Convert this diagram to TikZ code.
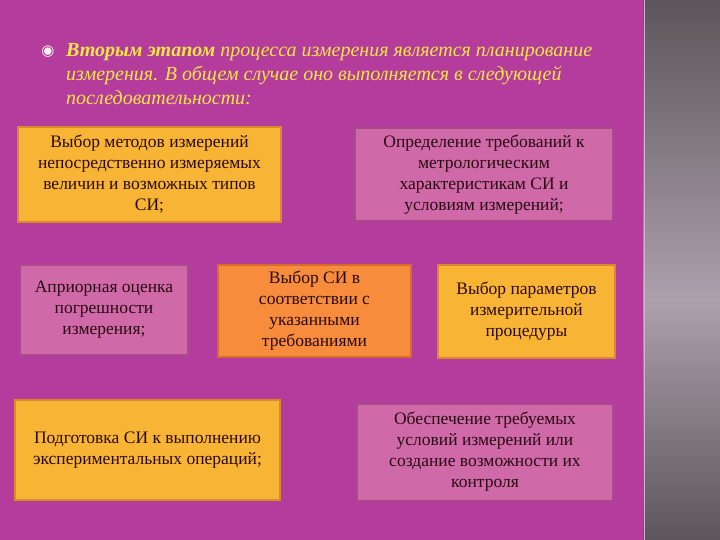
\documentclass[tikz,border=0pt]{standalone}
\usepackage{fontspec}
\setmainfont{Liberation Serif}
\newfontfamily\symfont{DejaVu Sans}
\usetikzlibrary{positioning}

\definecolor{slidebg}{HTML}{B33C9C}
\definecolor{panelmid}{HTML}{ADA0AC}
\definecolor{paneldark}{HTML}{5C565A}
\definecolor{headyellow}{HTML}{F8E646}
\definecolor{boxyellow}{HTML}{F8B434}
\definecolor{edgeyellow}{HTML}{D88A2C}
\definecolor{boxpink}{HTML}{CF69A8}
\definecolor{edgepink}{HTML}{A84A8C}
\definecolor{boxorange}{HTML}{F68C3C}
\definecolor{edgeorange}{HTML}{D86A2A}
\definecolor{boxtext}{HTML}{2A0A12}

\begin{document}
\begin{tikzpicture}
    [
        x=1pt, y=-1pt,
        stage/.style = {
            rectangle, draw, line width=2pt, inner sep=0pt, align=center,
            text=boxtext, font=\fontsize{17.5}{21}\selectfont
            },
        yellowstage/.style = {
            stage, fill=boxyellow, draw=edgeyellow
            },
        pinkstage/.style = {
            stage, fill=boxpink, draw=edgepink
            },
        orangestage/.style = {
            stage, fill=boxorange, draw=edgeorange
            },
    ]
    \useasboundingbox (0,0) rectangle (720,540);
    \fill[slidebg] (0,0) rectangle (720,540);
    % grey panel on the right
    \shade[top color=paneldark, bottom color=panelmid] (643,0) rectangle (720,300);
    \shade[top color=panelmid, bottom color=paneldark] (643,300) rectangle (720,540);
    \draw[panelmid!70!white, line width=1pt] (644,0) -- (644,540);

    % heading
    \node[text=white!80!pink, font=\symfont\fontsize{15}{15}\selectfont] (bullet) at (48,52) {◉};
    \node[anchor=north west, align=left, inner sep=0pt, text=headyellow,
          font=\itshape\fontsize{20}{24}\selectfont] (heading) at (66,43)
        {\textbf{Вторым этапом} процесса измерения является планирование\\
         измерения. В общем случае оно выполняется в следующей\\
         последовательности:};

    % stages
    \node[yellowstage, minimum width=263, minimum height=95] (methods) at (149.5,174.5)
        {Выбор методов измерений\\ непосредственно измеряемых\\ величин и возможных типов\\ СИ;};
    \node[pinkstage, minimum width=258, minimum height=93] (requirements) at (484,174.5)
        {Определение требований к\\ метрологическим\\ характеристикам СИ и\\ условиям измерений;};
    \node[pinkstage, minimum width=168, minimum height=90] (apriori) at (104,310)
        {Априорная оценка\\ погрешности\\ измерения;};
    \node[orangestage, minimum width=193, minimum height=92] (choice) at (314.5,311)
        {Выбор СИ в\\ соответствии с\\ указанными\\ требованиями};
    \node[yellowstage, minimum width=177, minimum height=93] (parameters) at (526.5,311.5)
        {Выбор параметров\\ измерительной\\ процедуры};
    \node[yellowstage, minimum width=265, minimum height=100] (preparation) at (147.5,450)
        {Подготовка СИ к выполнению\\ экспериментальных операций;};
    \node[pinkstage, minimum width=256, minimum height=97] (conditions) at (485,452)
        {Обеспечение требуемых\\ условий измерений или\\ создание возможности их\\ контроля};
\end{tikzpicture}
\end{document}
